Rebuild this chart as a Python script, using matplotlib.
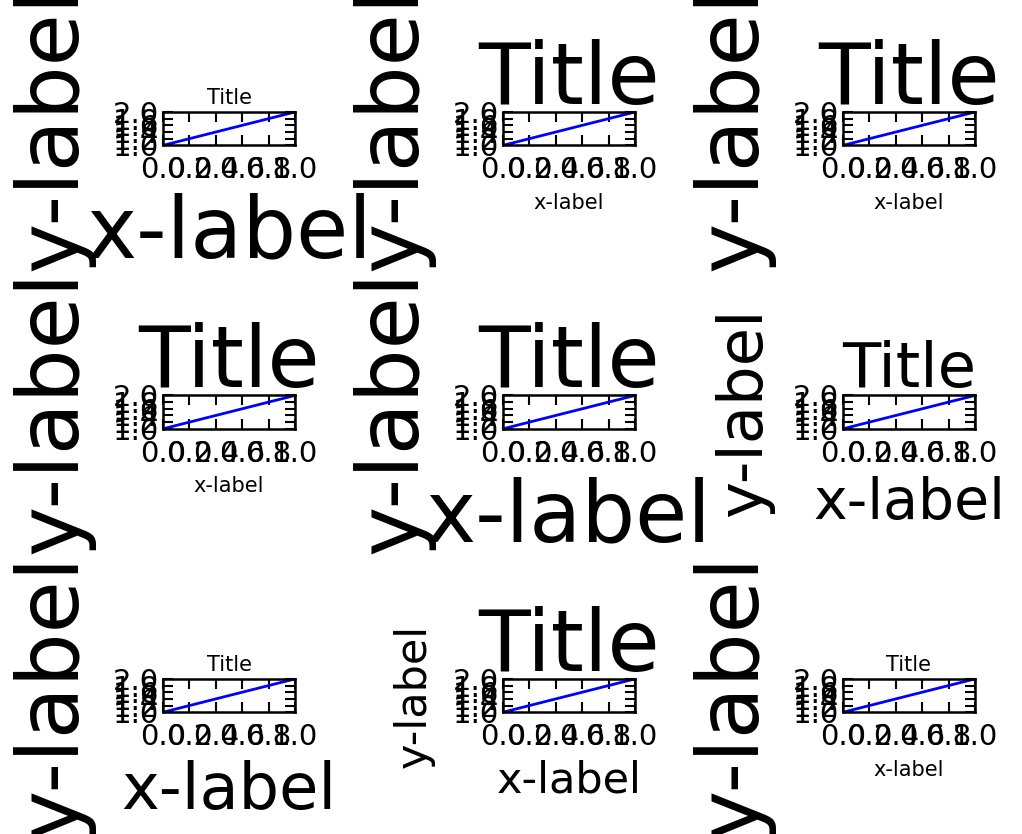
import matplotlib
matplotlib.use("Agg")
import matplotlib.pyplot as plt

# line data: plot([1, 2]) on every panel
x_vals = [0, 1]
y_vals = [1, 2]
x_ticks = [0.0, 0.2, 0.4, 0.6, 0.8, 1.0]
y_ticks = [1.0, 1.2, 1.4, 1.6, 1.8, 2.0]

# font sizes (pt) per panel, row by row: title, xlabel, ylabel
title_sizes = [[15, 61, 61], [61, 61, 45], [15, 61, 15]]
xlabel_sizes = [[61, 15, 15], [15, 61, 41], [46, 31, 15]]
ylabel_sizes = [[61, 61, 61], [61, 61, 45], [61, 31, 61]]
tick_size = 21

fig, axs = plt.subplots(3, 3, figsize=(10.22, 8.34), dpi=100)
fig.subplots_adjust(left=0.1595, right=0.954, top=0.8657, bottom=0.146,
                    wspace=1.576, hspace=7.5)

for i in range(3):
    for j in range(3):
        ax = axs[i, j]
        ax.plot(x_vals, y_vals, color="b", lw=2.0)
        ax.set_xlim(0, 1)
        ax.set_ylim(1, 2)
        ax.set_xticks(x_ticks)
        ax.set_yticks(y_ticks)
        ax.set_xlabel("x-label", fontsize=xlabel_sizes[i][j], labelpad=6)
        ax.set_ylabel("y-label", fontsize=ylabel_sizes[i][j], labelpad=13)
        ax.set_title("Title", fontsize=title_sizes[i][j])
        ax.tick_params(direction="in", top=True, right=True, length=7,
                       width=1.5, labelsize=tick_size)
        ax.tick_params(axis="x", pad=8)
        ax.tick_params(axis="y", pad=3)
        for sp in ax.spines.values():
            sp.set_linewidth(1.8)

fig.savefig("out.png", dpi=100)
